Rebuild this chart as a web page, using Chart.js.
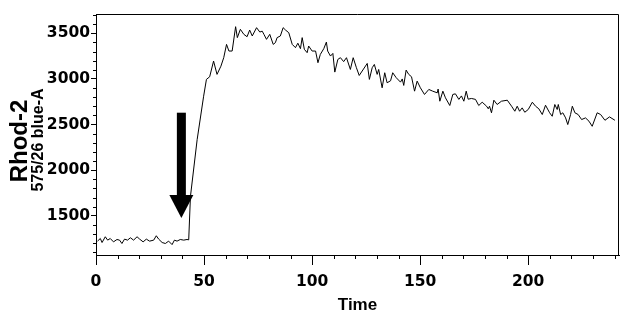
<!DOCTYPE html>
<html>
<head>
<meta charset="utf-8">
<script src="https://cdn.jsdelivr.net/npm/chart.js@4.4.1/dist/chart.umd.min.js"></script>
<style>
  html, body { margin: 0; padding: 0; background: #fff; }
  #wrap { position: relative; width: 642px; height: 325px; }
</style>
</head>
<body>
<div id="wrap"><canvas id="kinetic"></canvas></div>
<script>
// time (s) and Rhod-2 (575/26 blue-A) readings
const times = [
  0.7, 2.0, 2.8, 4.3, 5.4, 6.6, 8.1, 9.7, 10.9, 12.0, 13.2, 14.6, 15.9, 17.4, 19.0, 20.2,
  21.8, 23.3, 24.8, 26.7, 27.9, 29.0, 30.6, 32.1, 33.6, 35.2, 36.3, 37.5, 39.0, 40.6, 42.1, 42.9,
  43.7, 46.8, 49.8, 51.1, 52.6, 54.4, 56.0, 57.8, 59.1, 60.4, 61.5, 63.0, 64.6, 65.4, 66.8, 68.4,
  69.9, 71.1, 72.3, 74.3, 75.8, 76.9, 77.7, 78.9, 80.4, 82.0, 83.0, 83.8, 85.3, 86.6, 87.7, 89.2,
  90.8, 92.3, 93.4, 94.6, 95.4, 96.4, 97.7, 98.4, 100.0, 101.6, 102.7, 103.8, 105.4, 106.6, 107.2, 108.5,
  109.6, 110.5, 111.9, 113.1, 114.6, 115.9, 117.7, 119.0, 120.5, 121.8, 125.5, 126.5, 127.8, 128.8, 130.1, 130.8,
  132.4, 133.6, 134.7, 136.3, 137.3, 138.9, 140.9, 141.7, 142.4, 143.5, 144.7, 146.0, 147.4, 148.6, 150.1, 152.0,
  154.0, 155.8, 157.9, 158.3, 159.1, 160.5, 161.7, 163.7, 165.1, 166.3, 167.9, 169.1, 170.2, 171.3, 172.2, 173.7,
  175.6, 177.1, 178.7, 180.7, 181.5, 182.1, 183.0, 184.1, 185.6, 187.6, 190.3, 192.3, 193.8, 194.9, 196.0, 197.2,
  198.4, 200.0, 201.9, 203.4, 204.9, 206.5, 208.0, 209.9, 211.1, 212.3, 213.4, 213.9, 215.0, 216.0, 217.3, 218.3,
  219.6, 220.4, 221.6, 223.1, 224.7, 226.5, 228.1, 229.6, 231.9, 233.5, 235.5, 237.6, 240.1
];
const rhod2 = [
  1222, 1251, 1207, 1270, 1233, 1251, 1214, 1240, 1233, 1196, 1244, 1233, 1259, 1233, 1270, 1244,
  1214, 1244, 1222, 1233, 1281, 1244, 1207, 1196, 1222, 1184, 1233, 1222, 1240, 1233, 1240, 1236,
  1712, 2335, 2811, 2995, 3024, 3196, 3050, 3140, 3233, 3379, 3306, 3306, 3573, 3453, 3544, 3489,
  3463, 3536, 3471, 3562, 3514, 3524, 3489, 3434, 3489, 3379, 3398, 3453, 3471, 3562, 3536, 3507,
  3379, 3343, 3392, 3332, 3453, 3325, 3288, 3361, 3306, 3306, 3178, 3269, 3332, 3404, 3306, 3251,
  3280, 3075, 3214, 3233, 3190, 3233, 3104, 3233, 3123, 3038, 3170, 2995, 3123, 3159, 3050, 3104,
  2903, 3068, 2958, 2980, 3068, 3014, 2965, 3000, 2929, 3097, 3050, 3024, 2866, 2976, 2903, 2830,
  2885, 2866, 2848, 2889, 2756, 2866, 2793, 2709, 2830, 2837, 2776, 2814, 2756, 2866, 2778, 2786,
  2776, 2709, 2745, 2702, 2673, 2701, 2629, 2767, 2720, 2756, 2767, 2701, 2646, 2701, 2646, 2683,
  2635, 2665, 2745, 2701, 2673, 2610, 2712, 2629, 2591, 2720, 2665, 2720, 2610, 2629, 2573, 2500,
  2610, 2701, 2629, 2610, 2555, 2573, 2537, 2481, 2629, 2610, 2547, 2584, 2547
];

const xTicks = [0, 50, 100, 150, 200];
const yTicks = [1500, 2000, 2500, 3000, 3500];
const xMinor = [10, 20, 30, 40, 60, 70, 80, 90, 110, 120, 130, 140, 160, 170, 180, 190, 210, 220, 230, 240];
const yMinor = [1100, 1200, 1300, 1400, 1600, 1700, 1800, 1900, 2100, 2200, 2300, 2400,
                2600, 2700, 2800, 2900, 3100, 3200, 3300, 3400, 3600, 3700];

// stimulus arrow (time, value at top of shaft, value at tip)
const arrowAt = { t: 39.5, top: 2630, tip: 1475 };

const points = times.map((t, i) => ({ x: t, y: rhod2[i] }));

const extras = {
  id: "extras",
  afterDraw(chart) {
    const { ctx, chartArea: a, scales: { x, y } } = chart;
    ctx.save();
    ctx.strokeStyle = "#000";
    ctx.lineWidth = 1;
    // frame top + right
    ctx.beginPath();
    ctx.moveTo(a.left, a.top + 0.5);
    ctx.lineTo(a.right - 0.5, a.top + 0.5);
    ctx.lineTo(a.right - 0.5, a.bottom);
    ctx.stroke();
    // minor ticks
    ctx.beginPath();
    yMinor.forEach(v => {
      const py = Math.round(y.getPixelForValue(v)) + 0.5;
      ctx.moveTo(a.left - 3, py);
      ctx.lineTo(a.left, py);
    });
    xMinor.forEach(v => {
      const px = Math.round(x.getPixelForValue(v)) + 0.5;
      ctx.moveTo(px, a.bottom);
      ctx.lineTo(px, a.bottom + 4);
    });
    ctx.stroke();

    // arrow
    const ax = x.getPixelForValue(arrowAt.t);
    const top = y.getPixelForValue(arrowAt.top);
    const tip = y.getPixelForValue(arrowAt.tip);
    const head = 23;
    ctx.fillStyle = "#000";
    ctx.fillRect(ax - 4.5, top, 9, tip - head - top + 1);
    ctx.beginPath();
    ctx.moveTo(ax - 12, tip - head);
    ctx.lineTo(ax + 12, tip - head);
    ctx.lineTo(ax, tip);
    ctx.closePath();
    ctx.fill();

    // y titles
    ctx.fillStyle = "#000";
    ctx.textAlign = "center";
    ctx.textBaseline = "middle";
    ctx.save();
    ctx.translate(20, 141);
    ctx.rotate(-Math.PI / 2);
    ctx.font = "bold 24px 'Liberation Sans', Arial, sans-serif";
    ctx.fillText("Rhod-2", 0, 0);
    ctx.restore();
    ctx.save();
    ctx.translate(39, 140);
    ctx.rotate(-Math.PI / 2);
    ctx.font = "bold 16px 'Liberation Sans', Arial, sans-serif";
    ctx.fillText("575/26 blue-A", 0, 0);
    ctx.restore();
    ctx.restore();
  }
};

const tickFont = { family: "'DejaVu Sans', sans-serif", size: 15.5, weight: "bold" };
const plain = v => String(v);

new Chart(document.getElementById("kinetic"), {
  type: "line",
  data: {
    datasets: [{
      label: "Rhod-2",
      data: points,
      borderColor: "#000",
      borderWidth: 1,
      pointRadius: 0,
      tension: 0,
      fill: false
    }]
  },
  options: {
    responsive: true,
    maintainAspectRatio: false,
    animation: false,
    layout: { padding: { left: 0, top: 14, right: 23, bottom: 0 } },
    plugins: { legend: { display: false }, tooltip: { enabled: false } },
    scales: {
      x: {
        type: "linear",
        min: 0,
        max: 242,
        afterBuildTicks: s => { s.ticks = xTicks.map(v => ({ value: v })); },
        afterFit: s => { s.height = 70; },
        border: { display: true, color: "#000", width: 1 },
        grid: { drawOnChartArea: false, drawTicks: true, tickLength: 10, tickColor: "#000" },
        ticks: { color: "#000", font: tickFont, padding: 8, maxRotation: 0, callback: plain },
        title: {
          display: true,
          text: "Time",
          color: "#000",
          font: { family: "'Liberation Sans', Arial, sans-serif", size: 17, weight: "bold" },
          padding: { top: 0, bottom: 9 }
        }
      },
      y: {
        type: "linear",
        min: 1070,
        max: 3712,
        afterBuildTicks: s => { s.ticks = yTicks.map(v => ({ value: v })); },
        afterFit: s => { s.width = 96; },
        border: { display: true, color: "#000", width: 1 },
        grid: { drawOnChartArea: false, drawTicks: true, tickLength: 5, tickColor: "#000" },
        ticks: { color: "#000", font: tickFont, padding: 1, callback: plain }
      }
    }
  },
  plugins: [extras]
});
</script>
</body>
</html>
